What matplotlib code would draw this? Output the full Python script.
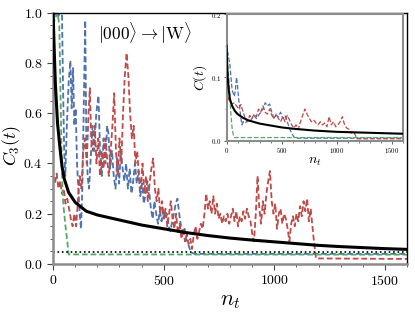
import matplotlib
matplotlib.use("Agg")
import matplotlib.pyplot as plt
from matplotlib.ticker import MultipleLocator

plt.rcParams['font.family'] = 'serif'
plt.rcParams['font.serif'] = ['cmr10', 'DejaVu Serif']
plt.rcParams['mathtext.fontset'] = 'cm'
plt.rcParams['axes.formatter.use_mathtext'] = True

BLUE = '#4c72b0'
RED = '#bf4a47'
GREEN = '#55a868'

# ---- main panel data: C_3(t) vs n_t ----
black_n = [0, 5, 10, 20, 30, 40, 50, 70, 100, 150, 200, 300, 400, 500, 600, 700,
           800, 900, 1000, 1100, 1200, 1300, 1400, 1500, 1600]
black_c = [1.0, 0.85, 0.72, 0.56, 0.47, 0.39, 0.34, 0.285, 0.245, 0.21, 0.195, 0.175,
           0.155, 0.14, 0.125, 0.113, 0.103, 0.095, 0.088, 0.081, 0.074, 0.069, 0.065,
           0.061, 0.058]

green_n = [0, 10, 20, 28, 33, 38, 42, 48, 56, 64, 70, 1600]
green_c = [0.95, 0.98, 1.0, 0.95, 0.7, 0.45, 0.3, 0.22, 0.15, 0.09, 0.038, 0.037]

blue_n = [0, 10, 20, 30, 40, 45, 50, 55, 62, 70, 78, 84, 90, 96, 102, 108, 114, 120,
          126, 132, 138, 145, 150, 156, 162, 170, 178, 186, 195, 205, 212, 220, 228,
          236, 244, 250, 258, 266, 274, 282, 290, 298, 306, 314, 322, 330, 338, 346,
          354, 362, 370, 378, 386, 394, 402, 410, 418, 426, 434, 442, 450, 458, 466,
          474, 482, 490, 498, 506, 514, 522, 530, 538, 546, 554, 562, 570, 578, 586,
          594, 602, 610, 618, 626, 640, 1600]
blue_c = [1.0, 1.0, 0.98, 1.0, 1.0, 0.7, 0.45, 0.35, 0.55, 0.72, 0.81, 0.62, 0.78,
          0.55, 0.62, 0.4, 0.3, 0.2, 0.14, 0.3, 0.6, 0.97, 0.5, 0.35, 0.3, 0.42, 0.55,
          0.45, 0.6, 0.67, 0.45, 0.35, 0.5, 0.4, 0.55, 0.52, 0.38, 0.45, 0.35, 0.3,
          0.42, 0.32, 0.45, 0.38, 0.33, 0.4, 0.3, 0.38, 0.28, 0.33, 0.4, 0.32, 0.37,
          0.27, 0.32, 0.24, 0.28, 0.33, 0.29, 0.22, 0.18, 0.25, 0.2, 0.16, 0.21, 0.17,
          0.22, 0.18, 0.2, 0.15, 0.13, 0.17, 0.2, 0.24, 0.26, 0.2, 0.15, 0.12, 0.14,
          0.1, 0.08, 0.06, 0.045, 0.04, 0.04]

red_n = [0, 8, 16, 24, 32, 40, 48, 56, 64, 72, 80, 88, 96, 104, 112, 120, 128, 136,
         144, 152, 160, 166, 172, 180, 188, 196, 204, 212, 220, 228, 236, 244, 252,
         260, 268, 276, 284, 292, 300, 308, 316, 324, 332, 340, 348, 356, 364, 372,
         380, 388, 396, 404, 412, 420, 428, 436, 444, 452, 460, 468, 476, 484, 492,
         500, 508, 516, 524, 532, 540, 548, 556, 564, 572, 580, 588, 596, 604, 612,
         620, 628, 636, 644, 652, 660, 668, 676, 684, 692, 700, 708, 716, 724, 732,
         740, 748, 756, 764, 772, 780, 788, 796, 804, 812, 820, 828, 836, 844, 852,
         860, 868, 876, 884, 892, 900, 908, 916, 924, 932, 940, 948, 956, 964, 972,
         980, 988, 996, 1004, 1012, 1020, 1028, 1036, 1044, 1052, 1060, 1068, 1076,
         1084, 1092, 1100, 1108, 1116, 1124, 1132, 1140, 1148, 1156, 1164, 1172, 1180,
         1188, 1600]
red_c = [0.35, 0.32, 0.36, 0.3, 0.33, 0.28, 0.3, 0.24, 0.26, 0.22, 0.18, 0.15, 0.2,
         0.15, 0.25, 0.35, 0.3, 0.45, 0.5, 0.4, 0.6, 0.7, 0.5, 0.45, 0.55, 0.4, 0.5,
         0.35, 0.45, 0.38, 0.5, 0.42, 0.35, 0.45, 0.55, 0.68, 0.45, 0.35, 0.5, 0.4,
         0.6, 0.75, 0.84, 0.75, 0.6, 0.5, 0.55, 0.4, 0.45, 0.35, 0.3, 0.4, 0.28, 0.35,
         0.25, 0.32, 0.38, 0.42, 0.3, 0.25, 0.3, 0.2, 0.25, 0.18, 0.22, 0.15, 0.2,
         0.25, 0.18, 0.14, 0.2, 0.12, 0.16, 0.1, 0.14, 0.09, 0.12, 0.08, 0.1, 0.06,
         0.12, 0.15, 0.1, 0.13, 0.16, 0.14, 0.2, 0.28, 0.22, 0.25, 0.2, 0.27, 0.2,
         0.24, 0.18, 0.2, 0.16, 0.19, 0.17, 0.2, 0.16, 0.19, 0.22, 0.17, 0.21, 0.15,
         0.19, 0.17, 0.21, 0.18, 0.22, 0.19, 0.17, 0.12, 0.09, 0.2, 0.35, 0.22, 0.16,
         0.25, 0.2, 0.28, 0.33, 0.37, 0.25, 0.2, 0.24, 0.14, 0.2, 0.22, 0.16, 0.2,
         0.18, 0.14, 0.09, 0.16, 0.19, 0.15, 0.2, 0.17, 0.23, 0.19, 0.25, 0.21, 0.26,
         0.17, 0.22, 0.15, 0.08, 0.022, 0.02]

dotted_level = 0.049

# ---- inset data: C(t) vs n_t ----
in_black_n = [0, 5, 10, 20, 30, 50, 75, 100, 150, 200, 300, 400, 500, 600, 800, 1000,
              1200, 1400, 1600]
in_black_c = [0.15, 0.12, 0.1, 0.08, 0.066, 0.055, 0.047, 0.042, 0.036, 0.032, 0.027,
              0.024, 0.021, 0.019, 0.016, 0.014, 0.013, 0.012, 0.011]

in_green_n = [0, 10, 20, 30, 40, 50, 60, 70, 1600]
in_green_c = [0.13, 0.12, 0.1, 0.07, 0.04, 0.02, 0.01, 0.005, 0.005]

in_blue_n = [0, 10, 20, 30, 40, 50, 60, 70, 80, 90, 100, 110, 120, 130, 140, 150, 170,
             190, 210, 230, 250, 270, 290, 310, 330, 350, 370, 390, 410, 430, 450, 470,
             490, 510, 530, 550, 570, 590, 610, 630, 1600]
in_blue_c = [0.14, 0.14, 0.13, 0.12, 0.1, 0.08, 0.075, 0.07, 0.08, 0.1, 0.085, 0.065,
             0.05, 0.035, 0.025, 0.03, 0.028, 0.032, 0.03, 0.035, 0.04, 0.035, 0.04,
             0.045, 0.05, 0.06, 0.055, 0.058, 0.045, 0.035, 0.04, 0.038, 0.045, 0.035,
             0.04, 0.03, 0.02, 0.012, 0.006, 0.004, 0.004]

in_red_n = [0, 10, 20, 30, 50, 70, 90, 110, 130, 150, 170, 190, 210, 230, 250, 270,
            290, 310, 330, 350, 370, 390, 410, 430, 450, 470, 490, 510, 530, 550, 570,
            590, 610, 630, 650, 670, 690, 710, 730, 750, 770, 790, 810, 830, 850, 870,
            890, 910, 930, 950, 970, 990, 1010, 1030, 1050, 1070, 1090, 1110, 1130,
            1150, 1170, 1185, 1600]
in_red_c = [0.08, 0.07, 0.065, 0.062, 0.058, 0.06, 0.055, 0.05, 0.057, 0.045, 0.035,
            0.03, 0.04, 0.035, 0.042, 0.038, 0.05, 0.045, 0.055, 0.045, 0.042, 0.05,
            0.04, 0.035, 0.042, 0.035, 0.03, 0.038, 0.03, 0.04, 0.033, 0.025, 0.02,
            0.025, 0.018, 0.03, 0.04, 0.05, 0.042, 0.035, 0.03, 0.033, 0.028, 0.025,
            0.03, 0.025, 0.028, 0.022, 0.038, 0.025, 0.03, 0.022, 0.025, 0.03, 0.038,
            0.025, 0.02, 0.018, 0.012, 0.015, 0.008, 0.003, 0.003]


def style_axes(ax, spine_left, spine_other, lw_left, lw_other):
    for side in ['left', 'bottom']:
        ax.spines[side].set_color(spine_left)
        ax.spines[side].set_linewidth(lw_left)
    for side in ['top', 'right']:
        ax.spines[side].set_color(spine_other)
        ax.spines[side].set_linewidth(lw_other)


fig = plt.figure(figsize=(4.15, 3.12), dpi=100)
ax = fig.add_axes([0.128, 0.154, 0.853, 0.805])

dash = (3.2, 1.6)
ax.plot(blue_n, blue_c, '--', color=BLUE, lw=1.3, dashes=dash)
ax.plot(red_n, red_c, '--', color=RED, lw=1.3, dashes=dash)
ax.plot(green_n, green_c, '--', color=GREEN, lw=1.3, dashes=dash)
ax.axhline(dotted_level, color='black', ls=':', lw=1.2)
ax.plot(black_n, black_c, '-', color='black', lw=2.2, zorder=5)

ax.set_xlim(0, 1600)
ax.set_ylim(0, 1.0)
ax.xaxis.set_major_locator(MultipleLocator(500))
ax.xaxis.set_minor_locator(MultipleLocator(100))
ax.yaxis.set_major_locator(MultipleLocator(0.2))
ax.yaxis.set_minor_locator(MultipleLocator(0.05))
ax.tick_params(which='major', direction='out', length=4, width=0.8, labelsize=10,
               color='#444444')
ax.tick_params(which='minor', direction='out', length=2.5, width=0.6, color='#444444')
ax.set_xlabel(r'$n_t$', fontsize=16, labelpad=2)
ax.set_ylabel(r'$C_3(t)$', fontsize=13)
ax.yaxis.set_label_coords(-0.086, 0.47)
style_axes(ax, '#8c8c8c', 'black', 1.8, 1.0)

ax.text(0.26, 0.92, r'$|000\rangle \rightarrow |\mathrm{W}\rangle$', transform=ax.transAxes,
        ha='center', va='center', fontsize=12.5)

# ---- inset ----
ins = fig.add_axes([0.546, 0.549, 0.425, 0.406])
ins.plot(in_blue_n, in_blue_c, '--', color=BLUE, lw=0.9)
ins.plot(in_red_n, in_red_c, '--', color=RED, lw=0.9)
ins.plot(in_green_n, in_green_c, '--', color=GREEN, lw=0.9)
ins.plot(in_black_n, in_black_c, '-', color='black', lw=1.5, zorder=5)
ins.set_xlim(0, 1600)
ins.set_ylim(0, 0.2)
ins.xaxis.set_major_locator(MultipleLocator(500))
ins.xaxis.set_minor_locator(MultipleLocator(100))
ins.yaxis.set_major_locator(MultipleLocator(0.1))
ins.yaxis.set_minor_locator(MultipleLocator(0.05))
ins.tick_params(which='major', direction='out', length=2.5, width=0.6, labelsize=5,
                pad=1.5, color='#444444')
ins.tick_params(which='minor', direction='out', length=1.5, width=0.5, color='#444444')
ins.set_xlabel(r'$n_t$', fontsize=10, labelpad=0)
ins.set_ylabel(r'$C(t)$', fontsize=10, labelpad=1)
style_axes(ins, '#8c8c8c', '#8c8c8c', 1.5, 1.5)

fig.savefig('out.png', dpi=100)
